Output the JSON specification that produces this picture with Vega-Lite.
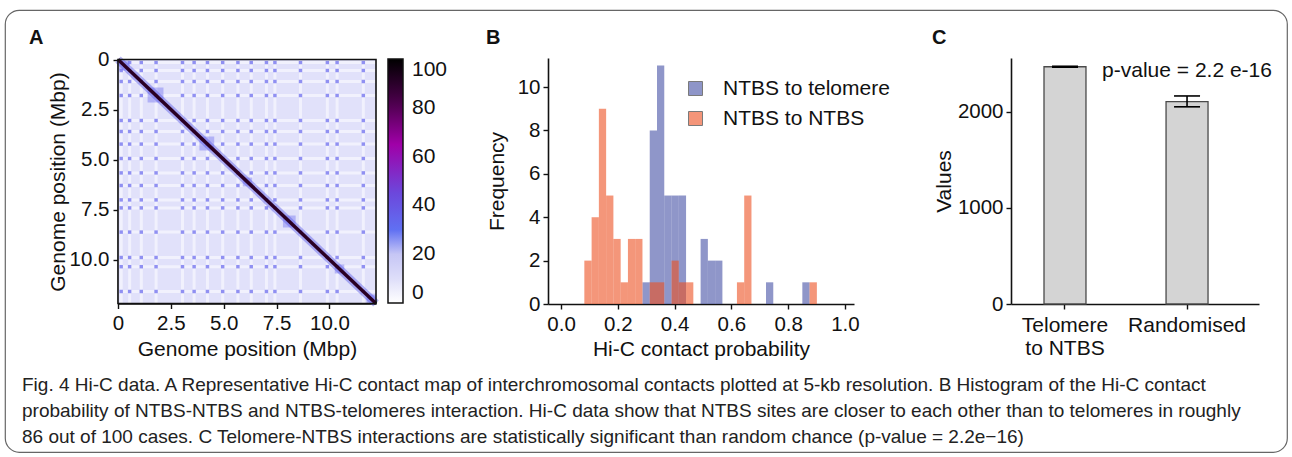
{
"$schema":"https://vega.github.io/schema/vega-lite/v6.json",
"background":"white",
"width":1282,"height":442,
"autosize":{"type":"none"},
"padding":{"left":5,"top":10,"right":5,"bottom":5},
"config":{
 "view":{"stroke":"#666","strokeWidth":1.2,"cornerRadius":14},
 "font":"Liberation Sans",
 "axis":{"labelFont":"Liberation Sans","titleFont":"Liberation Sans","labelFontSize":20.5,"titleFontSize":21,"titleFontWeight":"normal","labelColor":"#111","titleColor":"#111","domainColor":"#111","tickColor":"#111","domainWidth":1.6,"tickWidth":1.4,"tickSize":5,"grid":false,"labelFlush":false,"labelOverlap":false},
 "legend":{"labelFont":"Liberation Sans","labelFontSize":21,"labelColor":"#111","labelOverlap":false,"labelLimit":400}
},
"datasets":{
 "sites":[{"x1":0.15,"y1":0.15},{"x1":0.55,"y1":0.55},{"x1":1.1,"y1":1.1},{"x1":1.8,"y1":1.8},{"x1":3.05,"y1":3.05},{"x1":3.6,"y1":3.6},{"x1":4.23,"y1":4.23},{"x1":4.95,"y1":4.95},{"x1":5.67,"y1":5.67},{"x1":6.3,"y1":6.3},{"x1":7.02,"y1":7.02},{"x1":7.42,"y1":7.42},{"x1":8.63,"y1":8.63},{"x1":9.9,"y1":9.9},{"x1":10.36,"y1":10.36},{"x1":11.6,"y1":11.6}],
 "tads":[{"x1":0.05,"x2":0.55,"y1":0.05,"y2":0.55},{"x1":1.4,"x2":2.15,"y1":1.4,"y2":2.15},{"x1":3.85,"x2":4.55,"y1":3.85,"y2":4.55},{"x1":5.9,"x2":6.35,"y1":5.9,"y2":6.35},{"x1":7.8,"x2":8.4,"y1":7.8,"y2":8.4},{"x1":10.25,"x2":10.7,"y1":10.25,"y2":10.7},{"x1":11.75,"x2":12.2,"y1":11.75,"y2":12.2}],
 "diag":[{"x1":0,"y1":0,"x2":12.2,"y2":12.2}],
 "dots":[
{"x1":0.15,"y1":0.15},{"x1":0.15,"y1":0.55},{"x1":0.15,"y1":1.1},{"x1":0.15,"y1":1.8},{"x1":0.15,"y1":3.05},{"x1":0.15,"y1":3.6},{"x1":0.15,"y1":4.23},{"x1":0.15,"y1":4.95},{"x1":0.15,"y1":5.67},{"x1":0.15,"y1":6.3},{"x1":0.15,"y1":7.02},{"x1":0.15,"y1":7.42},{"x1":0.15,"y1":8.63},{"x1":0.15,"y1":9.9},{"x1":0.15,"y1":10.36},{"x1":0.15,"y1":11.6},
{"x1":0.55,"y1":0.15},{"x1":0.55,"y1":0.55},{"x1":0.55,"y1":1.1},{"x1":0.55,"y1":1.8},{"x1":0.55,"y1":3.05},{"x1":0.55,"y1":3.6},{"x1":0.55,"y1":4.23},{"x1":0.55,"y1":4.95},{"x1":0.55,"y1":5.67},{"x1":0.55,"y1":6.3},{"x1":0.55,"y1":7.02},{"x1":0.55,"y1":7.42},{"x1":0.55,"y1":8.63},{"x1":0.55,"y1":9.9},{"x1":0.55,"y1":10.36},{"x1":0.55,"y1":11.6},
{"x1":1.1,"y1":0.15},{"x1":1.1,"y1":0.55},{"x1":1.1,"y1":1.1},{"x1":1.1,"y1":1.8},{"x1":1.1,"y1":3.05},{"x1":1.1,"y1":3.6},{"x1":1.1,"y1":4.23},{"x1":1.1,"y1":4.95},{"x1":1.1,"y1":5.67},{"x1":1.1,"y1":6.3},{"x1":1.1,"y1":7.02},{"x1":1.1,"y1":7.42},{"x1":1.1,"y1":8.63},{"x1":1.1,"y1":9.9},{"x1":1.1,"y1":10.36},{"x1":1.1,"y1":11.6},
{"x1":1.8,"y1":0.15},{"x1":1.8,"y1":0.55},{"x1":1.8,"y1":1.1},{"x1":1.8,"y1":1.8},{"x1":1.8,"y1":3.05},{"x1":1.8,"y1":3.6},{"x1":1.8,"y1":4.23},{"x1":1.8,"y1":4.95},{"x1":1.8,"y1":5.67},{"x1":1.8,"y1":6.3},{"x1":1.8,"y1":7.02},{"x1":1.8,"y1":7.42},{"x1":1.8,"y1":8.63},{"x1":1.8,"y1":9.9},{"x1":1.8,"y1":10.36},{"x1":1.8,"y1":11.6},
{"x1":3.05,"y1":0.15},{"x1":3.05,"y1":0.55},{"x1":3.05,"y1":1.1},{"x1":3.05,"y1":1.8},{"x1":3.05,"y1":3.05},{"x1":3.05,"y1":3.6},{"x1":3.05,"y1":4.23},{"x1":3.05,"y1":4.95},{"x1":3.05,"y1":5.67},{"x1":3.05,"y1":6.3},{"x1":3.05,"y1":7.02},{"x1":3.05,"y1":7.42},{"x1":3.05,"y1":8.63},{"x1":3.05,"y1":9.9},{"x1":3.05,"y1":10.36},{"x1":3.05,"y1":11.6},
{"x1":3.6,"y1":0.15},{"x1":3.6,"y1":0.55},{"x1":3.6,"y1":1.1},{"x1":3.6,"y1":1.8},{"x1":3.6,"y1":3.05},{"x1":3.6,"y1":3.6},{"x1":3.6,"y1":4.23},{"x1":3.6,"y1":4.95},{"x1":3.6,"y1":5.67},{"x1":3.6,"y1":6.3},{"x1":3.6,"y1":7.02},{"x1":3.6,"y1":7.42},{"x1":3.6,"y1":8.63},{"x1":3.6,"y1":9.9},{"x1":3.6,"y1":10.36},{"x1":3.6,"y1":11.6},
{"x1":4.23,"y1":0.15},{"x1":4.23,"y1":0.55},{"x1":4.23,"y1":1.1},{"x1":4.23,"y1":1.8},{"x1":4.23,"y1":3.05},{"x1":4.23,"y1":3.6},{"x1":4.23,"y1":4.23},{"x1":4.23,"y1":4.95},{"x1":4.23,"y1":5.67},{"x1":4.23,"y1":6.3},{"x1":4.23,"y1":7.02},{"x1":4.23,"y1":7.42},{"x1":4.23,"y1":8.63},{"x1":4.23,"y1":9.9},{"x1":4.23,"y1":10.36},{"x1":4.23,"y1":11.6},
{"x1":4.95,"y1":0.15},{"x1":4.95,"y1":0.55},{"x1":4.95,"y1":1.1},{"x1":4.95,"y1":1.8},{"x1":4.95,"y1":3.05},{"x1":4.95,"y1":3.6},{"x1":4.95,"y1":4.23},{"x1":4.95,"y1":4.95},{"x1":4.95,"y1":5.67},{"x1":4.95,"y1":6.3},{"x1":4.95,"y1":7.02},{"x1":4.95,"y1":7.42},{"x1":4.95,"y1":8.63},{"x1":4.95,"y1":9.9},{"x1":4.95,"y1":10.36},{"x1":4.95,"y1":11.6},
{"x1":5.67,"y1":0.15},{"x1":5.67,"y1":0.55},{"x1":5.67,"y1":1.1},{"x1":5.67,"y1":1.8},{"x1":5.67,"y1":3.05},{"x1":5.67,"y1":3.6},{"x1":5.67,"y1":4.23},{"x1":5.67,"y1":4.95},{"x1":5.67,"y1":5.67},{"x1":5.67,"y1":6.3},{"x1":5.67,"y1":7.02},{"x1":5.67,"y1":7.42},{"x1":5.67,"y1":8.63},{"x1":5.67,"y1":9.9},{"x1":5.67,"y1":10.36},{"x1":5.67,"y1":11.6},
{"x1":6.3,"y1":0.15},{"x1":6.3,"y1":0.55},{"x1":6.3,"y1":1.1},{"x1":6.3,"y1":1.8},{"x1":6.3,"y1":3.05},{"x1":6.3,"y1":3.6},{"x1":6.3,"y1":4.23},{"x1":6.3,"y1":4.95},{"x1":6.3,"y1":5.67},{"x1":6.3,"y1":6.3},{"x1":6.3,"y1":7.02},{"x1":6.3,"y1":7.42},{"x1":6.3,"y1":8.63},{"x1":6.3,"y1":9.9},{"x1":6.3,"y1":10.36},{"x1":6.3,"y1":11.6},
{"x1":7.02,"y1":0.15},{"x1":7.02,"y1":0.55},{"x1":7.02,"y1":1.1},{"x1":7.02,"y1":1.8},{"x1":7.02,"y1":3.05},{"x1":7.02,"y1":3.6},{"x1":7.02,"y1":4.23},{"x1":7.02,"y1":4.95},{"x1":7.02,"y1":5.67},{"x1":7.02,"y1":6.3},{"x1":7.02,"y1":7.02},{"x1":7.02,"y1":7.42},{"x1":7.02,"y1":8.63},{"x1":7.02,"y1":9.9},{"x1":7.02,"y1":10.36},{"x1":7.02,"y1":11.6},
{"x1":7.42,"y1":0.15},{"x1":7.42,"y1":0.55},{"x1":7.42,"y1":1.1},{"x1":7.42,"y1":1.8},{"x1":7.42,"y1":3.05},{"x1":7.42,"y1":3.6},{"x1":7.42,"y1":4.23},{"x1":7.42,"y1":4.95},{"x1":7.42,"y1":5.67},{"x1":7.42,"y1":6.3},{"x1":7.42,"y1":7.02},{"x1":7.42,"y1":7.42},{"x1":7.42,"y1":8.63},{"x1":7.42,"y1":9.9},{"x1":7.42,"y1":10.36},{"x1":7.42,"y1":11.6},
{"x1":8.63,"y1":0.15},{"x1":8.63,"y1":0.55},{"x1":8.63,"y1":1.1},{"x1":8.63,"y1":1.8},{"x1":8.63,"y1":3.05},{"x1":8.63,"y1":3.6},{"x1":8.63,"y1":4.23},{"x1":8.63,"y1":4.95},{"x1":8.63,"y1":5.67},{"x1":8.63,"y1":6.3},{"x1":8.63,"y1":7.02},{"x1":8.63,"y1":7.42},{"x1":8.63,"y1":8.63},{"x1":8.63,"y1":9.9},{"x1":8.63,"y1":10.36},{"x1":8.63,"y1":11.6},
{"x1":9.9,"y1":0.15},{"x1":9.9,"y1":0.55},{"x1":9.9,"y1":1.1},{"x1":9.9,"y1":1.8},{"x1":9.9,"y1":3.05},{"x1":9.9,"y1":3.6},{"x1":9.9,"y1":4.23},{"x1":9.9,"y1":4.95},{"x1":9.9,"y1":5.67},{"x1":9.9,"y1":6.3},{"x1":9.9,"y1":7.02},{"x1":9.9,"y1":7.42},{"x1":9.9,"y1":8.63},{"x1":9.9,"y1":9.9},{"x1":9.9,"y1":10.36},{"x1":9.9,"y1":11.6},
{"x1":10.36,"y1":0.15},{"x1":10.36,"y1":0.55},{"x1":10.36,"y1":1.1},{"x1":10.36,"y1":1.8},{"x1":10.36,"y1":3.05},{"x1":10.36,"y1":3.6},{"x1":10.36,"y1":4.23},{"x1":10.36,"y1":4.95},{"x1":10.36,"y1":5.67},{"x1":10.36,"y1":6.3},{"x1":10.36,"y1":7.02},{"x1":10.36,"y1":7.42},{"x1":10.36,"y1":8.63},{"x1":10.36,"y1":9.9},{"x1":10.36,"y1":10.36},{"x1":10.36,"y1":11.6},
{"x1":11.6,"y1":0.15},{"x1":11.6,"y1":0.55},{"x1":11.6,"y1":1.1},{"x1":11.6,"y1":1.8},{"x1":11.6,"y1":3.05},{"x1":11.6,"y1":3.6},{"x1":11.6,"y1":4.23},{"x1":11.6,"y1":4.95},{"x1":11.6,"y1":5.67},{"x1":11.6,"y1":6.3},{"x1":11.6,"y1":7.02},{"x1":11.6,"y1":7.42},{"x1":11.6,"y1":8.63},{"x1":11.6,"y1":9.9},{"x1":11.6,"y1":10.36},{"x1":11.6,"y1":11.6}
 ],
 "hist":[
{"series":"NTBS to telomere","s":0.2868,"e":0.3124,"n":1},
{"series":"NTBS to telomere","s":0.3124,"e":0.338,"n":8},
{"series":"NTBS to telomere","s":0.338,"e":0.3636,"n":11},
{"series":"NTBS to telomere","s":0.3636,"e":0.3892,"n":5},
{"series":"NTBS to telomere","s":0.3892,"e":0.4148,"n":5},
{"series":"NTBS to telomere","s":0.4148,"e":0.4404,"n":5},
{"series":"NTBS to telomere","s":0.4916,"e":0.5172,"n":3},
{"series":"NTBS to telomere","s":0.5172,"e":0.5428,"n":2},
{"series":"NTBS to telomere","s":0.5428,"e":0.5684,"n":2},
{"series":"NTBS to telomere","s":0.722,"e":0.7476,"n":1},
{"series":"NTBS to telomere","s":0.85,"e":0.8756,"n":1},
{"series":"NTBS to NTBS","s":0.082,"e":0.1076,"n":2},
{"series":"NTBS to NTBS","s":0.1076,"e":0.1332,"n":4},
{"series":"NTBS to NTBS","s":0.1332,"e":0.1588,"n":9},
{"series":"NTBS to NTBS","s":0.1588,"e":0.1844,"n":5},
{"series":"NTBS to NTBS","s":0.1844,"e":0.21,"n":3},
{"series":"NTBS to NTBS","s":0.21,"e":0.2356,"n":1},
{"series":"NTBS to NTBS","s":0.2356,"e":0.2612,"n":3},
{"series":"NTBS to NTBS","s":0.2612,"e":0.2868,"n":3},
{"series":"NTBS to NTBS","s":0.3124,"e":0.338,"n":1},
{"series":"NTBS to NTBS","s":0.338,"e":0.3636,"n":1},
{"series":"NTBS to NTBS","s":0.3892,"e":0.4148,"n":2},
{"series":"NTBS to NTBS","s":0.4148,"e":0.4404,"n":1},
{"series":"NTBS to NTBS","s":0.4404,"e":0.466,"n":1},
{"series":"NTBS to NTBS","s":0.6196,"e":0.6452,"n":1},
{"series":"NTBS to NTBS","s":0.6452,"e":0.6708,"n":5},
{"series":"NTBS to NTBS","s":0.8756,"e":0.9012,"n":1}
 ],
 "cbars":[{"g":"Telomere to NTBS","m":2469,"lo":2464,"hi":2474},{"g":"Randomised","m":2106,"lo":2052,"hi":2165}],
 "caption":[
{"line":1,"text":"Fig. 4 Hi-C data. A Representative Hi-C contact map of interchromosomal contacts plotted at 5-kb resolution. B Histogram of the Hi-C contact"},
{"line":2,"text":"probability of NTBS-NTBS and NTBS-telomeres interaction. Hi-C data show that NTBS sites are closer to each other than to telomeres in roughly"},
{"line":3,"text":"86 out of 100 cases. C Telomere-NTBS interactions are statistically significant than random chance (p-value = 2.2e\u221216)"}
 ]
},
"resolve":{"scale":{"x":"independent","y":"independent","color":"independent"},"axis":{"x":"independent","y":"independent"},"legend":{"color":"independent"}},
"layer":[
 {"layer":[
  {"data":{"values":[{"x1":0,"x2":12.2,"y1":0,"y2":12.2,"v":9}]},
   "mark":{"type":"rect"},
   "encoding":{
    "x":{"field":"x1","type":"quantitative","title":"Genome position (Mbp)","scale":{"domain":[0,12.2],"range":[113,371],"nice":false,"zero":false},"axis":{"orient":"bottom","offset":-148.5,"values":[0,2.5,5,7.5,10],"labelExpr":"datum.value == 0 ? '0' : format(datum.value, '.1f')","labelPadding":5,"titlePadding":4}},
    "x2":{"field":"x2"},
    "y":{"field":"y1","type":"quantitative","title":"Genome position (Mbp)","scale":{"domain":[0,12.2],"range":[49.5,293.5],"nice":false,"zero":false},"axis":{"orient":"left","offset":-113,"values":[0,2.5,5,7.5,10],"labelExpr":"datum.value == 0 ? '0' : format(datum.value, '.1f')","labelPadding":4,"titlePadding":1}},
    "y2":{"field":"y2"},
    "color":{"field":"v","type":"quantitative","scale":{"domain":[0,10,20,30,45,65,82,100],"range":["#ffffff","#dedef9","#c6c6f5","#6070f2","#6c48dc","#a000a8","#4c004c","#000000"],"interpolate":"rgb"},
      "legend":{"orient":"none","legendX":383,"legendY":49,"title":null,"direction":"vertical","gradientLength":244,"gradientThickness":15,"gradientStrokeColor":"#111","gradientStrokeWidth":1.5,"values":[0,20,40,60,80,100],"labelOffset":9,"padding":0,"labelFontSize":21}}
   }},
  {"data":{"name":"sites"},"mark":{"type":"rule","color":"#fbfbff","strokeWidth":3,"opacity":0.6},"encoding":{"x":{"field":"x1","type":"quantitative","title":"Genome position (Mbp)"},"y":{"datum":0,"type":"quantitative"},"y2":{"datum":12.2}}},
  {"data":{"name":"sites"},"mark":{"type":"rule","color":"#fbfbff","strokeWidth":3,"opacity":0.6},"encoding":{"y":{"field":"y1","type":"quantitative","title":"Genome position (Mbp)"},"x":{"datum":0,"type":"quantitative"},"x2":{"datum":12.2}}},
  {"data":{"name":"tads"},"mark":{"type":"rect","opacity":0.4,"color":"#6a6af0"},"encoding":{"x":{"field":"x1","type":"quantitative","title":"Genome position (Mbp)"},"x2":{"field":"x2"},"y":{"field":"y1","type":"quantitative","title":"Genome position (Mbp)"},"y2":{"field":"y2"}}},
  {"data":{"name":"dots"},"mark":{"type":"square","size":12,"color":"#7e7ef0","opacity":0.85},"encoding":{"x":{"field":"x1","type":"quantitative","title":"Genome position (Mbp)"},"y":{"field":"y1","type":"quantitative","title":"Genome position (Mbp)"}}},
  {"data":{"name":"diag"},"mark":{"type":"rule","color":"#5a5ae6","strokeWidth":8,"opacity":0.45},"encoding":{"x":{"field":"x1","type":"quantitative","title":"Genome position (Mbp)"},"y":{"field":"y1","type":"quantitative","title":"Genome position (Mbp)"},"x2":{"field":"x2"},"y2":{"field":"y2"}}},
  {"data":{"name":"diag"},"mark":{"type":"rule","color":"#2a0024","strokeWidth":3.5},"encoding":{"x":{"field":"x1","type":"quantitative","title":"Genome position (Mbp)"},"y":{"field":"y1","type":"quantitative","title":"Genome position (Mbp)"},"x2":{"field":"x2"},"y2":{"field":"y2"}}},
  {"data":{"name":"diag"},"mark":{"type":"rect","fillOpacity":0,"stroke":"#111","strokeWidth":1.6},"encoding":{"x":{"field":"x1","type":"quantitative","title":"Genome position (Mbp)"},"y":{"field":"y1","type":"quantitative","title":"Genome position (Mbp)"},"x2":{"field":"x2"},"y2":{"field":"y2"}}},
  {"data":{"values":[{}]},"mark":{"type":"text","text":"A","fontSize":20,"fontWeight":"bold","align":"left","baseline":"alphabetic","color":"#111"},"encoding":{"x":{"datum":-4.21,"type":"quantitative"},"y":{"datum":-0.78,"type":"quantitative"}}}
 ]},
 {"layer":[
  {"data":{"name":"hist"},
   "mark":{"type":"rect","opacity":0.6},
   "encoding":{
    "x":{"field":"s","type":"quantitative","title":"Hi-C contact probability","scale":{"domain":[-0.046,1.032],"range":[543,849],"nice":false,"zero":false},"axis":{"orient":"bottom","offset":-148,"values":[0,0.2,0.4,0.6,0.8,1],"format":".1f","labelPadding":5,"titlePadding":4}},
    "x2":{"field":"e"},
    "y":{"field":"n","type":"quantitative","title":"Frequency","scale":{"domain":[0,11.34],"range":[294,48],"nice":false,"zero":false},"axis":{"orient":"left","offset":-543,"values":[0,2,4,6,8,10],"labelPadding":3,"titlePadding":10}},
    "y2":{"datum":0},
    "color":{"field":"series","type":"nominal","sort":null,"scale":{"domain":["NTBS to telomere","NTBS to NTBS"],"range":["#4450a5","#ed5021"]},
      "legend":{"orient":"none","legendX":680,"legendY":68,"title":null,"symbolType":"square","symbolSize":196,"symbolStrokeColor":"#222","symbolStrokeWidth":1,"symbolOpacity":0.6,"labelFontSize":21,"labelOffset":17,"rowPadding":8,"padding":0}}
   }},
  {"data":{"values":[{}]},"mark":{"type":"text","text":"B","fontSize":20,"fontWeight":"bold","align":"left","baseline":"alphabetic","color":"#111"},"encoding":{"x":{"datum":-0.264,"type":"quantitative"},"y":{"datum":11.99,"type":"quantitative"}}},
  {"data":{"values":[{}]},"mark":{"type":"text","text":"C","fontSize":20,"fontWeight":"bold","align":"left","baseline":"alphabetic","color":"#111"},"encoding":{"x":{"datum":1.307,"type":"quantitative"},"y":{"datum":11.99,"type":"quantitative"}}}
 ]},
 {"data":{"name":"cbars"},
  "encoding":{"x":{"field":"g","type":"nominal","sort":null,"title":null,"scale":{"domain":["Telomere to NTBS","Randomised"],"range":[1006,1254],"paddingInner":0.656,"paddingOuter":0.344,"align":0.393},"axis":{"orient":"bottom","offset":-148,"labelAngle":0,"labelExpr":"datum.label == 'Telomere to NTBS' ? ['Telomere', 'to NTBS'] : datum.label","labelLineHeight":23,"labelPadding":5,"labelFontSize":21}}},
  "layer":[
   {"mark":{"type":"bar","fill":"#d4d4d4","stroke":"#4a4a4a","strokeWidth":1.3},"encoding":{"y":{"field":"m","type":"quantitative","title":"Values","scale":{"domain":[0,2560],"range":[294,48],"nice":false},"axis":{"orient":"left","offset":-1006,"values":[0,1000,2000],"format":"d","labelPadding":3,"titlePadding":3}}}},
   {"mark":{"type":"rule","color":"#000","strokeWidth":1.6},"encoding":{"y":{"field":"lo","type":"quantitative","title":"Values"},"y2":{"field":"hi"}}},
   {"mark":{"type":"tick","color":"#000","thickness":1.6,"size":26,"opacity":1},"encoding":{"y":{"field":"lo","type":"quantitative","title":"Values"}}},
   {"mark":{"type":"tick","color":"#000","thickness":1.6,"size":26,"opacity":1},"encoding":{"y":{"field":"hi","type":"quantitative","title":"Values"}}},
   {"data":{"values":[{"g":"Randomised","t":"p-value = 2.2 e-16","yv":2420}]},"mark":{"type":"text","fontSize":21,"font":"Liberation Sans","color":"#111","baseline":"middle"},"encoding":{"y":{"field":"yv","type":"quantitative","title":"Values"},"text":{"field":"t"}}}
  ]
 },
 {"data":{"name":"caption"},
  "mark":{"type":"text","align":"left","baseline":"middle","font":"Liberation Sans","fontSize":19,"color":"#222"},
  "encoding":{
   "x":{"datum":0,"type":"quantitative","scale":{"domain":[0,1],"range":[17,1282]},"axis":null},
   "y":{"field":"line","type":"ordinal","scale":{"type":"point","domain":[1,2,3],"range":[375,427],"padding":0},"axis":null},
   "text":{"field":"text"}
  }
 }
]
}
